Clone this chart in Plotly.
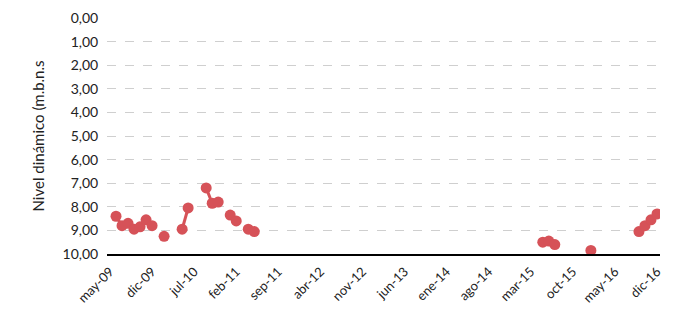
import plotly.graph_objects as go

# Monthly categories from may-09 to dic-16
month_names = ["ene", "feb", "mar", "abr", "may", "jun", "jul", "ago", "sep", "oct", "nov", "dic"]
months = []
for y in range(2009, 2017):
    for m in range(12):
        if y == 2009 and m < 4:
            continue
        months.append(f"{month_names[m]}-{str(y)[2:]}")

# Observed dynamic level (m.b.n.s) by month label
obs_months = ["jun-09", "jul-09", "ago-09", "sep-09", "oct-09", "nov-09", "dic-09",
              "feb-10", "may-10", "jun-10", "sep-10", "oct-10", "nov-10",
              "ene-11", "feb-11", "abr-11", "may-11",
              "may-15", "jun-15", "jul-15", "ene-16",
              "sep-16", "oct-16", "nov-16", "dic-16"]
obs_values = [8.4, 8.8, 8.7, 8.95, 8.85, 8.55, 8.8,
              9.25, 8.95, 8.05, 7.2, 7.85, 7.8,
              8.35, 8.6, 8.95, 9.05,
              9.5, 9.45, 9.6, 9.85,
              9.05, 8.8, 8.55, 8.3]

lookup = dict(zip(obs_months, obs_values))
series = [lookup.get(m) for m in months]

tick_labels = months[::7]

fig = go.Figure()
fig.add_trace(go.Scatter(
    x=months, y=series, mode="lines+markers",
    connectgaps=False,
    line=dict(color="rgb(214,82,88)", width=3),
    marker=dict(color="rgb(214,82,88)", size=11),
    showlegend=False,
))

font_family = "Lato, 'Open Sans', sans-serif"
fig.update_layout(
    width=676, height=320,
    margin=dict(l=99, r=24, t=10, b=74),
    paper_bgcolor="white", plot_bgcolor="white",
    separators=",.",
    font=dict(family=font_family, color="#222222", size=14),
    xaxis=dict(
        type="category",
        categoryorder="array", categoryarray=months,
        range=[-0.5, len(months) - 0.5],
        tickvals=tick_labels, ticktext=tick_labels,
        tickangle=-45,
        tickfont=dict(size=13),
        showgrid=False,
        showline=True, linecolor="black", linewidth=2,
        ticks="outside", ticklen=3, tickcolor="rgba(0,0,0,0)",
        automargin=False,
    ),
    yaxis=dict(
        range=[10, 0],
        tickvals=list(range(0, 11)),
        tickformat=".2f",
        tickfont=dict(size=14),
        showgrid=True, gridcolor="#cfcfcf", gridwidth=1, griddash="dash",
        zeroline=False,
        ticks="outside", ticklen=5, tickcolor="rgba(0,0,0,0)",
        automargin=False,
        title=dict(text="Nivel dinámico (m.b.n.s", font=dict(size=15), standoff=14),
    ),
)

fig.write_html("out.html")
